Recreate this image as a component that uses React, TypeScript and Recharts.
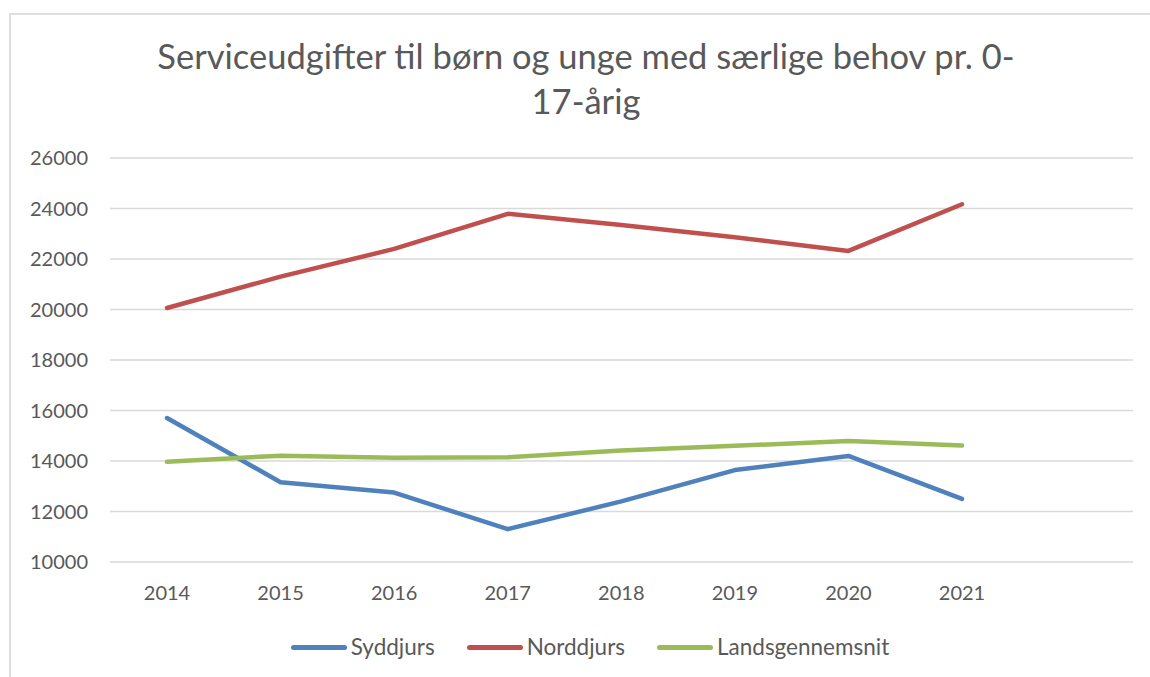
import React from "react";
import { LineChart, Line, XAxis, YAxis, CartesianGrid, Legend } from "recharts";

// Values
const YEARS = ["2014", "2015", "2016", "2017", "2018", "2019", "2020", "2021"];
const SYDDJURS = [15700, 13160, 12750, 11300, 12400, 13640, 14200, 12500];
const NORDDJURS = [20060, 21300, 22400, 23790, 23350, 22860, 22320, 24170];
const LANDSGENNEMSNIT = [13970, 14210, 14130, 14150, 14420, 14600, 14790, 14610];
const Y_TICKS = [10000, 12000, 14000, 16000, 18000, 20000, 22000, 24000, 26000];

const SERIES = [
  { key: "Syddjurs", color: "#4f81bd" },
  { key: "Norddjurs", color: "#c0504d" },
  { key: "Landsgennemsnit", color: "#9bbb59" },
];

const FONT = "Lato, 'Liberation Sans', sans-serif";
const TEXT = "#595959";

const data = YEARS.map((year, i) => ({
  year,
  Syddjurs: SYDDJURS[i],
  Norddjurs: NORDDJURS[i],
  Landsgennemsnit: LANDSGENNEMSNIT[i],
}));

// legend keeps the series order (recharts sorts it by name otherwise)
function LegendContent() {
  return (
    <div style={{ display: "flex", justifyContent: "center", alignItems: "center", gap: 32 }}>
      {SERIES.map((item) => (
        <div key={item.key} style={{ display: "flex", alignItems: "center" }}>
          <span
            style={{
              display: "inline-block",
              width: 56,
              height: 5,
              borderRadius: 3,
              background: item.color,
              marginRight: 4,
            }}
          />
          <span style={{ fontSize: 22.5, color: TEXT, lineHeight: "26px", fontFamily: FONT }}>{item.key}</span>
        </div>
      ))}
    </div>
  );
}

export default function App() {
  return (
    <div
      style={{
        position: "absolute",
        left: 0,
        top: 0,
        width: 1150,
        height: 677,
        overflow: "hidden",
        background: "#fff",
        fontFamily: FONT,
      }}
    >
      {/* chart frame, cropped at right and bottom */}
      <div
        style={{
          position: "absolute",
          left: 9,
          top: 13,
          width: 1300,
          height: 800,
          borderLeft: "2px solid #dedede",
          borderTop: "2px solid #dedede",
        }}
      />
      <svg style={{ position: "absolute", left: 0, top: 0 }} width={1150} height={130}>
        <text x={586} y={69} textAnchor="middle" fill={TEXT} fontSize={34.5} fontFamily={FONT}>
          Serviceudgifter til børn og unge med særlige behov pr. 0-
        </text>
        <text x={586} y={114} textAnchor="middle" fill={TEXT} fontSize={34.5} fontFamily={FONT}>
          17-årig
        </text>
      </svg>
      <div style={{ position: "absolute", left: 0, top: 0 }}>
        <LineChart width={1150} height={677} data={data} margin={{ top: 158, right: 17, bottom: 75, left: 10 }}>
          <CartesianGrid vertical={false} stroke="#d9d9d9" strokeWidth={1.5} />
          <XAxis
            dataKey="year"
            axisLine={false}
            tickLine={false}
            tickSize={0}
            tickMargin={24}
            height={40}
            padding={{ left: 57, right: 171 }}
            interval={0}
            tick={{ fill: TEXT, fontSize: 20, fontFamily: FONT }}
          />
          <YAxis
            domain={[10000, 26000]}
            ticks={Y_TICKS}
            axisLine={false}
            tickLine={false}
            tickSize={0}
            tickMargin={22}
            width={100}
            interval={0}
            tick={{ fill: TEXT, fontSize: 20, fontFamily: FONT }}
          />
          {SERIES.map((s) => (
            <Line
              key={s.key}
              type="linear"
              dataKey={s.key}
              stroke={s.color}
              strokeWidth={4.5}
              strokeLinecap="round"
              strokeLinejoin="round"
              dot={false}
              activeDot={false}
              isAnimationActive={false}
            />
          ))}
          <Legend
            verticalAlign="middle"
            align="center"
            wrapperStyle={{ top: 634, left: 90, width: 1000 }}
            content={() => <LegendContent />}
          />
        </LineChart>
      </div>
    </div>
  );
}
